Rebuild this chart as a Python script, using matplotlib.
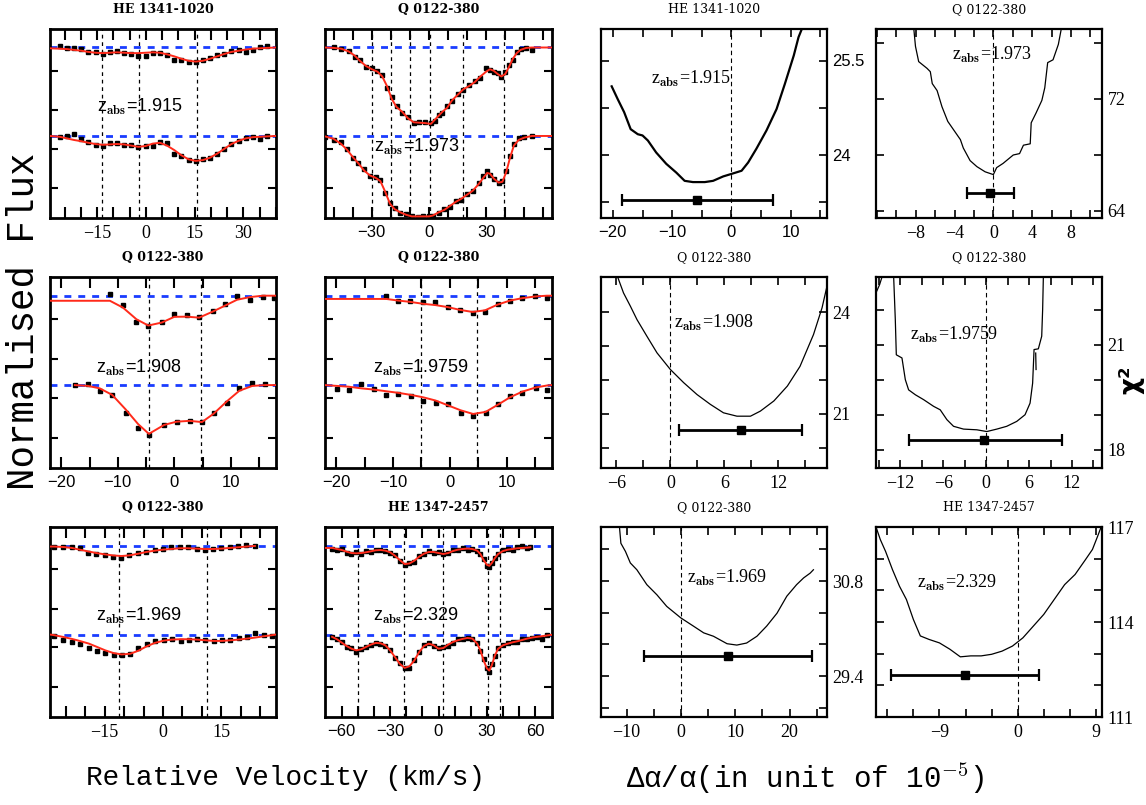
import numpy as np
import matplotlib
matplotlib.use("Agg")
import matplotlib.pyplot as plt

nan = np.nan
plt.rcParams['mathtext.fontset'] = 'cm'

# ---------------- spectra (normalised flux) ----------------
# Panel A : HE 1341-1020, z=1.915
A_v = [-29.5, -26.5, -24.3, -22.1, -19.9, -17.7, -15.5, -13.3, -11.1, -8.9, -6.7, -4.5, -2.3, -0.1, 2.1,
       4.3, 6.5, 8.7, 10.9, 13.1, 15.3, 17.5, 19.7, 21.9, 24.1, 26.3, 28.5, 30.7, 32.9, 35.1, 37.3, 40.0]
A_up_fit = [0.99, 0.985, 0.98, 0.97, 0.96, 0.945, 0.935, 0.93, 0.935, 0.94, 0.935, 0.93, 0.93, 0.935, 0.94,
            0.935, 0.915, 0.89, 0.86, 0.835, 0.825, 0.835, 0.86, 0.89, 0.92, 0.945, 0.96, 0.975, 0.985, 0.99, 0.995, 1.0]
A_up_obs = [nan, 1.02, 0.99, 0.99, 0.98, 0.95, 0.94, 0.92, 0.94, 0.96, 0.93, 0.92, 0.9, 0.9, 0.93,
            0.93, 0.91, 0.84, 0.85, 0.82, 0.82, 0.84, 0.875, 0.91, 0.92, 0.96, 0.97, 0.95, 0.97, 1.0, 1.02, nan]
A_lo_fit = [1.0, 0.99, 0.97, 0.95, 0.935, 0.915, 0.9, 0.89, 0.895, 0.9, 0.895, 0.88, 0.865, 0.875, 0.905,
            0.915, 0.88, 0.825, 0.76, 0.71, 0.69, 0.7, 0.73, 0.78, 0.84, 0.9, 0.94, 0.97, 0.985, 0.99, 0.995, 1.0]
A_lo_obs = [nan, 0.99, 1.0, 1.02, 0.96, 0.92, 0.89, 0.88, 0.91, 0.91, 0.89, 0.89, 0.86, 0.87, 0.88,
            0.92, 0.91, 0.78, 0.75, 0.70, 0.69, 0.71, 0.73, 0.78, 0.84, 0.9, 0.94, 0.97, 0.99, 0.96, 1.0, nan]
A_comp = [-13.6, -2.0, 15.7]

# Panel B : Q 0122-380, z=1.973
B_up_v = [-54.5, -50, -46, -42, -39, -36, -33, -30, -27, -24.5, -22, -19.5, -17, -14, -11, -8, -5, -2, 1, 3,
          5, 7, 9.5, 12, 15, 18, 21, 24, 27, 30, 32, 34, 36, 38, 40, 42, 44, 46, 48, 51, 54, 64.5]
B_up_fit = [1.0, 0.995, 0.985, 0.95, 0.9, 0.83, 0.77, 0.73, 0.7, 0.64, 0.52, 0.36, 0.26, 0.2, 0.12, 0.07, 0.065,
            0.06, 0.05, 0.1, 0.15, 0.2, 0.25, 0.34, 0.41, 0.48, 0.52, 0.57, 0.64, 0.7, 0.73, 0.71, 0.67, 0.64,
            0.67, 0.76, 0.86, 0.93, 0.97, 0.995, 1.0, 1.0]
B_up_obs = [nan, 1.0, 0.98, 0.96, 0.88, 0.84, 0.76, 0.74, 0.71, 0.66, 0.5, 0.38, 0.27, 0.18, 0.13, 0.06, 0.07,
            0.07, 0.06, 0.09, 0.16, 0.19, 0.27, 0.33, 0.42, 0.47, 0.53, 0.58, 0.62, 0.74, 0.72, 0.7, 0.68, 0.63,
            0.69, 0.78, 0.85, 0.95, 0.98, 0.99, 0.97, nan]
B_lo_v = [-54.5, -50, -46, -43, -40, -37, -34, -31, -28, -25.5, -23, -20.5, -18, -15, -12, -9, -6, -3, 0, 2,
          5, 8, 11, 14, 17, 20, 23, 26, 28.5, 30.5, 32, 34, 36.5, 38.5, 40.5, 42.5, 44.5, 47, 50, 54, 64.5]
B_lo_fit = [0.995, 0.965, 0.9, 0.83, 0.74, 0.66, 0.57, 0.51, 0.48, 0.44, 0.31, 0.16, 0.09, 0.05, 0.02, 0.0, 0.0,
            0.0, 0.0, 0.01, 0.05, 0.08, 0.13, 0.18, 0.22, 0.27, 0.32, 0.4, 0.48, 0.54, 0.53, 0.47, 0.42, 0.43,
            0.55, 0.73, 0.88, 0.95, 0.98, 1.0, 1.0]
B_lo_obs = [0.99, 0.95, 0.92, 0.84, 0.72, 0.66, 0.59, 0.5, 0.49, 0.45, 0.29, 0.17, 0.1, 0.04, 0.03, 0.01, -0.01,
            0.0, 0.01, 0.0, 0.04, 0.09, 0.12, 0.19, 0.21, 0.28, 0.31, 0.41, 0.5, 0.57, 0.52, 0.46, 0.41, 0.44,
            0.56, 0.75, 0.9, 0.97, 0.99, 1.0, nan]
B_comp = [-29.9, -19.8, -10.1, 0.7, 17.8, 39.2]

# Panel C : Q 0122-380, z=1.908
C_up_v = [-22, -11.4, -9.1, -6.7, -4.6, -2.2, 0, 2.2, 4.4, 6.8, 8.9, 11.1, 13.4, 15.7, 17.6, 18]
C_up_fit = [0.9375, 0.9375, 0.854, 0.71, 0.633, 0.67, 0.74, 0.742, 0.73, 0.804, 0.875, 0.95, 0.983, 1.0, 1.0, 1.0]
C_up_obs = [nan, 1.02, 0.883, 0.68, 0.633, 0.675, 0.78, 0.76, 0.74, 0.81, 0.896, 1.0, 0.95, 0.98, 0.967, nan]
C_lo_v = [-17.6, -15.3, -13.2, -11.0, -8.6, -6.4, -4.5, -1.8, 0.4, 2.7, 4.9, 7.0, 9.3, 11.5, 13.8, 16.1, 18.0]
C_lo_fit = [1.0, 0.99, 0.96, 0.88, 0.7, 0.52, 0.4, 0.51, 0.55, 0.56, 0.545, 0.65, 0.8, 0.93, 0.99, 1.0, 1.0]
C_lo_obs = [1.0, 1.01, 0.93, 0.88, 0.66, 0.47, 0.383, 0.51, 0.54, 0.56, 0.54, 0.66, 0.78, 0.967, 1.02, 1.01, nan]
C_comp = [-4.5, 4.7]

# Panel D : Q 0122-380, z=1.9759
D_up_v = [-22, -11.2, -9.1, -7.1, -4.7, -2.6, -0.4, 1.8, 4.0, 6.2, 8.4, 10.6, 12.8, 15.0, 17.1, 18]
D_up_fit = [0.96, 0.96, 0.94, 0.925, 0.9, 0.885, 0.86, 0.825, 0.8, 0.82, 0.89, 0.94, 0.97, 0.99, 1.0, 1.0]
D_up_obs = [nan, 1.0, 0.93, 0.93, 0.917, 0.917, 0.862, 0.825, 0.792, 0.8, 0.896, 0.9375, 0.967, 0.992, 0.967, nan]
D_lo_v = [-22, -19.9, -17.8, -15.6, -13.4, -11.3, -9.1, -6.9, -4.7, -2.5, -0.3, 1.9, 4.1, 6.3, 8.5, 10.6,
          12.8, 15.1, 17.1, 18]
D_lo_fit = [1.0, 0.99, 0.98, 0.96, 0.945, 0.925, 0.905, 0.88, 0.85, 0.81, 0.75, 0.69, 0.645, 0.67, 0.76, 0.85,
            0.92, 0.97, 0.995, 1.0]
D_lo_obs = [nan, 0.95, 0.9375, 1.008, 0.958, 0.883, 0.896, 0.8625, 0.8, 0.779, 0.771, 0.654, 0.625, 0.654,
            0.771, 0.8625, 0.908, 0.967, 0.9375, nan]
D_comp = [-5.1, 4.8]

# Panel E : Q 0122-380, z=1.969
E_up_v = [-29, -27.9, -25.7, -23.4, -21.4, -19.3, -17.1, -15.0, -12.9, -10.7, -8.6, -6.3, -4.3, -2.1, 0,
          2.1, 4.3, 6.4, 8.6, 10.7, 12.9, 15.0, 17.1, 19.3, 21.4, 23.6]
E_up_fit = [0.988, 0.988, 0.983, 0.971, 0.95, 0.929, 0.908, 0.892, 0.879, 0.871, 0.879, 0.9, 0.921, 0.9375,
            0.95, 0.958, 0.967, 0.967, 0.9625, 0.958, 0.958, 0.9625, 0.971, 0.979, 0.988, 0.996]
E_up_obs = [nan, 0.9875, 0.979, 0.9875, 0.967, 0.904, 0.896, 0.883, 0.8625, 0.846, 0.883, 0.904, 0.925, 0.946,
            0.958, 0.979, 0.9875, 0.979, 0.958, 0.946, 0.958, 0.971, 0.979, 1.0, 1.0125, 1.0]
E_lo_v = [-29, -27.9, -25.7, -23.4, -21.4, -19.0, -16.9, -14.8, -12.7, -10.6, -8.4, -6.3, -4.2, -2.1, 0.2,
          2.3, 4.5, 6.6, 8.7, 10.9, 13.0, 15.1, 17.3, 19.4, 21.6, 23.7, 25.9, 28.0, 29]
E_lo_fit = [1.0, 0.992, 0.971, 0.946, 0.921, 0.8875, 0.846, 0.804, 0.771, 0.754, 0.7625, 0.8, 0.854, 0.896,
            0.925, 0.9375, 0.942, 0.942, 0.9375, 0.929, 0.921, 0.921, 0.929, 0.9375, 0.95, 0.9625, 0.979, 0.992, 1.0]
E_lo_obs = [nan, 0.979, 0.9375, 0.908, 0.8875, 0.833, 0.792, 0.771, 0.75, 0.742, 0.758, 0.833, 0.8875, 0.917,
            0.9375, 0.946, 0.917, 0.929, 0.946, 0.929, 0.917, 0.929, 0.9375, 0.958, 0.971, 1.021, 1.0, 0.9875, nan]
E_comp = [-11.4, 11.3]

# Panel F : HE 1347-2457, z=2.329
F_up_v = [-70, -66, -63, -60, -57, -54, -51, -48, -45, -42, -39, -36, -33, -30, -27, -24, -21, -18, -15, -12,
          -9, -6, -3, 0, 3, 6, 9, 12, 15, 18, 21, 24, 26, 28, 30, 31.5, 33, 35, 37, 40, 43, 46, 49, 52, 55, 57]
F_up_fit = [0.971, 0.971, 0.958, 0.946, 0.925, 0.908, 0.904, 0.908, 0.917, 0.929, 0.942, 0.946, 0.938, 0.917,
            0.875, 0.821, 0.771, 0.779, 0.813, 0.863, 0.900, 0.921, 0.921, 0.908, 0.896, 0.908, 0.933, 0.950,
            0.958, 0.963, 0.958, 0.938, 0.896, 0.821, 0.763, 0.750, 0.783, 0.846, 0.896, 0.933, 0.950, 0.958,
            0.967, 0.971, 0.975, 0.979]
F_up_obs = [nan, 0.96, 0.95, 0.955, 0.91, 0.90, 0.92, 0.895, 0.93, 0.92, 0.95, 0.94, 0.93, 0.91, 0.88, 0.81,
            0.76, 0.79, 0.80, 0.87, 0.89, 0.93, 0.91, 0.92, 0.89, 0.91, 0.94, 0.94, 0.97, 0.95, 0.96, 0.93, 0.90,
            0.83, 0.75, 0.74, 0.79, 0.85, 0.90, 0.94, 0.96, 0.95, 0.98, 0.99, 0.97, 0.98]
F_lo_v = [-66, -63, -60, -57, -54, -51, -48, -45, -42, -39, -36, -33, -30, -27, -24, -21, -18, -15, -12, -9,
          -6, -3, 0, 3, 6, 9, 12, 15, 18, 21, 24, 26, 28, 30, 31.5, 33, 35, 37, 40, 43, 46, 49, 52, 55, 58, 61,
          64, 67, 70]
F_lo_fit = [0.971, 0.942, 0.9, 0.858, 0.825, 0.804, 0.817, 0.846, 0.875, 0.896, 0.892, 0.867, 0.804, 0.721,
            0.6375, 0.5875, 0.608, 0.679, 0.783, 0.858, 0.8875, 0.867, 0.825, 0.833, 0.875, 0.908, 0.929, 0.946,
            0.958, 0.95, 0.8875, 0.804, 0.679, 0.583, 0.554, 0.617, 0.742, 0.825, 0.867, 0.8875, 0.904, 0.917,
            0.933, 0.95, 0.9625, 0.971, 0.979, 0.9875, 0.996]
F_lo_obs = [0.97, 0.94, 0.91, 0.85, 0.83, 0.79, 0.82, 0.85, 0.87, 0.90, 0.88, 0.86, 0.81, 0.71, 0.65, 0.58,
            0.59, 0.69, 0.78, 0.87, 0.89, 0.86, 0.83, 0.84, 0.86, 0.90, 0.94, 0.94, 0.96, 0.95, 0.89, 0.80, 0.70,
            0.58, 0.54, 0.63, 0.74, 0.83, 0.87, 0.89, 0.91, 0.91, 0.94, 0.95, 0.96, 0.97, 0.95, 0.99, nan]
F_comp = [-50.1, -21.7, 3.1, 30.4, 37.9]

FLUX_ERR = 0.02

# ---------------- chi-square curves ----------------
G_x = [-20.2, -19.2, -18.1, -17.0, -15.8, -15.0, -14.1, -12.7, -11.0, -9.3, -7.9, -6.5, -4.5, -3.1, -1.4,
       0.0, 1.7, 2.8, 4.2, 5.9, 7.6, 9.0, 10.5, 11.3, 11.9]
G_y = [25.09, 24.89, 24.68, 24.41, 24.33, 24.31, 24.23, 24.04, 23.86, 23.72, 23.59, 23.57, 23.57, 23.59, 23.66,
       23.70, 23.75, 23.88, 24.10, 24.39, 24.73, 25.13, 25.58, 25.87, 26.01]
G_best = (-5.9, 23.29, 12.6, 12.85)

H_x = [-8.2, -8.03, -7.7, -6.84, -6.5, -6.3, -5.8, -5.3, -4.7, -4.1, -3.4, -3.1, -2.4, -1.7, -0.85, 0.0, 0.34,
       1.0, 2.05, 2.7, 3.1, 3.8, 3.9, 4.4, 5.0, 5.3, 5.6, 6.15, 6.7, 7.0]
H_y = [77.0, 75.76, 74.67, 74.19, 73.95, 73.1, 72.6, 71.45, 70.4, 69.8, 69.1, 68.5, 67.6, 67.17, 66.8, 66.6, 67.1,
       67.4, 68.0, 68.1, 68.7, 68.8, 70.3, 71.0, 71.9, 72.8, 74.6, 74.8, 75.9, 77.0]
H_best = (-0.34, 65.3, 2.33, 2.46)

I_x = [-5.85, -5.2, -4.44, -3.7, -2.6, -1.48, 0.0, 1.48, 2.96, 4.44, 5.9, 7.4, 8.9, 10.0, 11.5, 13.0, 14.4,
       15.9, 16.85, 17.4]
I_y = [25.04, 24.57, 24.18, 23.78, 23.29, 22.8, 22.31, 21.92, 21.57, 21.28, 21.03, 20.93, 20.93, 21.08, 21.38,
       21.82, 22.4, 23.34, 24.13, 24.77]
I_best = (7.85, 20.52, 6.85, 6.75)

J_x1 = [-15.4, -14.9, -14.56]
J_y1 = [22.48, 22.71, 22.93]
J_x2 = [-12.93, -12.7, -12.56, -11.77, -11.3, -10.84, -9.9, -8.74, -7.35, -6.42, -5.49, -4.56, -3.16, -1.3,
        0.09, 1.49, 2.88, 4.28, 5.44, 6.14, 6.5, 6.7, 7.3, 7.77, 7.9, 8.0]
J_y2 = [22.93, 21.71, 20.71, 20.62, 20.0, 19.71, 19.57, 19.43, 19.24, 19.14, 18.86, 18.67, 18.59, 18.57, 18.52,
        18.59, 18.67, 18.81, 19.0, 19.33, 19.9, 20.86, 20.88, 21.24, 22.0, 22.93]
J_x3 = [6.93, 6.98]
J_y3 = [20.76, 20.29]
J_best = (-0.28, 18.29, 10.56, 10.84)

K_x = [-11.3, -11.04, -10.2, -9.3, -8.1, -6.26, -4.4, -2.6, 0.0, 2.3, 4.2, 6.0, 8.5, 10.3, 12.1, 14.0, 15.8,
       17.7, 19.5, 21.3, 22.6, 23.8, 24.4]
K_y = [31.6, 31.36, 31.24, 31.07, 30.97, 30.75, 30.6, 30.43, 30.26, 30.14, 30.04, 29.99, 29.88, 29.86, 29.89,
       29.99, 30.14, 30.33, 30.58, 30.75, 30.85, 30.92, 30.97]
K_best = (8.65, 29.7, 15.5, 15.45)

L_x = [-16.3, -15.8, -15.2, -14.4, -13.6, -12.8, -12.0, -11.2, -10.2, -9.0, -7.8, -6.6, -5.4, -4.2, -3.0, -1.8,
       -0.6, 0.6, 1.8, 3.0, 4.2, 5.4, 6.6, 7.8, 8.6, 9.2, 9.6]
L_y = [117.0, 116.6, 116.23, 115.65, 115.13, 114.71, 114.08, 113.56, 113.45, 113.34, 113.14, 112.9, 112.93,
       112.93, 112.98, 113.08, 113.24, 113.5, 113.87, 114.24, 114.71, 115.18, 115.5, 115.97, 116.29, 116.71, 117.0]
L_best = (-6.08, 112.32, 8.52, 8.48)

# ---------------- layout ----------------
W, H = 1146.0, 805.0
fig = plt.figure(figsize=(11.46, 8.05), dpi=100)
COLS = [(50, 276), (325, 552), (601, 827), (876, 1102)]
ROWS = [(29, 218), (277, 468), (527, 717)]

SANS = 'Liberation Sans'
SERIF = 'Liberation Serif'
TITLE_FONT = 'DejaVu Serif'
RED = '#ff2a1a'
BLUE = '#1a3cff'

YLIM = (-0.02, 2.33)
OFF = 1.1
YTICKS_SPEC = [0.35, 0.84, 1.32, 1.81]


def make_ax(r, c):
    x0, x1 = COLS[c]
    y0, y1 = ROWS[r]
    return fig.add_axes([x0 / W, 1 - y1 / H, (x1 - x0) / W, (y1 - y0) / H])


def fmt(t):
    s = ('%g' % t)
    return s.replace('-', '\u2212')


def set_xt(ax, ticks, labelled, font, size):
    ax.set_xticks(ticks)
    ax.set_xticklabels([fmt(t) if t in labelled else '' for t in ticks], family=font, fontsize=size)


def title(ax, text, bold):
    ax.annotate(text, xy=(0.5, 1.0), xycoords='axes fraction', xytext=(0, 14),
                textcoords='offset points', ha='center', va='center', family=TITLE_FONT,
                fontsize=9, fontweight='bold' if bold else 'normal')


def spec_panel(r, c, name, z, zpos, xlim, ticks, labelled, font, up, lo, comps):
    ax = make_ax(r, c)
    ax.set_xlim(xlim)
    ax.set_ylim(YLIM)
    for s in ax.spines.values():
        s.set_linewidth(2.0)
    for cv in comps:
        ax.axvline(cv, color='k', ls=(0, (3, 3)), lw=0.9, zorder=1)
    ax.axhline(1.0, color=BLUE, ls=(0, (2.5, 2.5)), lw=2.0, zorder=2)
    ax.axhline(1.0 + OFF, color=BLUE, ls=(0, (2.5, 2.5)), lw=2.0, zorder=2)
    for (v, fit, obs), off in ((up, OFF), (lo, 0.0)):
        v = np.asarray(v, float)
        ax.errorbar(v, np.asarray(obs, float) + off, yerr=FLUX_ERR, fmt='s', color='k', ms=3.2,
                    elinewidth=1.0, capsize=0, zorder=3)
        ax.plot(v, np.asarray(fit, float) + off, color=RED, lw=1.4, zorder=4)
    set_xt(ax, ticks, labelled, font, 12 if font == SANS else 13)
    ax.set_yticks(YTICKS_SPEC)
    ax.set_yticklabels([])
    ax.tick_params(axis='x', which='both', direction='in', top=True, bottom=True, length=8, width=1.5, pad=5)
    ax.tick_params(axis='y', which='both', direction='in', left=True, right=True, length=6, width=1.5)
    ax.text(zpos[0], zpos[1], r'z$_{\mathbf{abs}}$=' + z, family=SANS, fontsize=13, va='baseline')
    title(ax, name, True)
    return ax


def chi_panel(r, c, name, z, zpos, xlim, ylim, xticks, xlab, yticks, ylab, font, curves, best, lw):
    ax = make_ax(r, c)
    ax.set_xlim(xlim)
    ax.set_ylim(ylim)
    for s in ax.spines.values():
        s.set_linewidth(1.6)
    ax.axvline(0, color='k', ls=(0, (4, 3)), lw=0.8, zorder=1)
    for cx, cy in curves:
        ax.plot(cx, cy, color='k', lw=lw, zorder=3)
    bx, by, el, er = best
    ax.errorbar([bx], [by], xerr=[[el], [er]], fmt='s', color='k', ms=6, elinewidth=2,
                capsize=4, capthick=1.6, zorder=4)
    size = 12 if font == SANS else 13
    set_xt(ax, xticks, xlab, font, size)
    ax.set_yticks(yticks)
    ax.set_yticklabels([fmt(t) if t in ylab else '' for t in yticks], family=font, fontsize=size)
    ax.tick_params(axis='x', which='both', direction='in', top=True, bottom=True, length=6, width=1.2, pad=5)
    ax.tick_params(axis='y', which='both', direction='in', left=True, right=True, labelleft=False,
                   labelright=True, length=6, width=1.2, pad=4)
    ax.text(zpos[0], zpos[1], r'z$_{\mathbf{abs}}$=' + z, family=SERIF, fontsize=13, va='baseline')
    title(ax, name, False)
    return ax


# left: spectra
spec_panel(0, 0, 'HE 1341-1020', '1.915', (-15.1, 1.30), (-29.5, 40),
           list(range(-25, 41, 5)), [-15, 0, 15, 30], SERIF,
           (A_v, A_up_fit, A_up_obs), (A_v, A_lo_fit, A_lo_obs), A_comp)
spec_panel(0, 1, 'Q 0122-380', '1.973', (-29.0, 0.80), (-54.5, 64.5),
           list(range(-50, 61, 10)), [-30, 0, 30], SANS,
           (B_up_v, B_up_fit, B_up_obs), (B_lo_v, B_lo_fit, B_lo_obs), B_comp)
spec_panel(1, 0, 'Q 0122-380', '1.908', (-13.8, 1.15), (-22, 18),
           list(range(-20, 16, 5)), [-20, -10, 0, 10], SANS,
           (C_up_v, C_up_fit, C_up_obs), (C_lo_v, C_lo_fit, C_lo_obs), C_comp)
spec_panel(1, 1, 'Q 0122-380', '1.9759', (-13.5, 1.15), (-22, 18),
           list(range(-20, 16, 5)), [-20, -10, 0, 10], SANS,
           (D_up_v, D_up_fit, D_up_obs), (D_lo_v, D_lo_fit, D_lo_obs), D_comp)
spec_panel(2, 0, 'Q 0122-380', '1.969', (-17.1, 1.17), (-29, 29),
           list(range(-25, 26, 5)), [-15, 0, 15], SERIF,
           (E_up_v, E_up_fit, E_up_obs), (E_lo_v, E_lo_fit, E_lo_obs), E_comp)
spec_panel(2, 1, 'HE 1347-2457', '2.329', (-40.4, 1.17), (-70.4, 70.4),
           list(range(-60, 61, 10)), [-60, -30, 0, 30, 60], SANS,
           (F_up_v, F_up_fit, F_up_obs), (F_lo_v, F_lo_fit, F_lo_obs), F_comp)

# right: chi-square
chi_panel(0, 2, 'HE 1341-1020', '1.915', (-13.6, 25.13), (-22, 16.1), (23.0, 26.0),
          list(range(-20, 16, 5)), [-20, -10, 0, 10], [23.25, 24.0, 24.75, 25.5], [24.0, 25.5], SANS,
          [(G_x, G_y)], G_best, 1.6)
chi_panel(0, 3, 'Q 0122-380', '1.973', (-4.27, 74.8), (-12.1, 11.2), (63.5, 77.0),
          list(range(-12, 11, 2)), [-8, -4, 0, 4, 8], [64, 68, 72, 76], [64, 72], SERIF,
          [(H_x, H_y)], H_best, 0.9)
chi_panel(1, 2, 'Q 0122-380', '1.908', (0.45, 23.54), (-7.7, 17.4), (19.4, 25.04),
          list(range(-6, 17, 3)), [-6, 0, 6, 12], [20, 21, 22, 23, 24], [21, 24], SERIF,
          [(I_x, I_y)], I_best, 0.9)
chi_panel(1, 3, 'Q 0122-380', '1.9759', (-10.6, 21.14), (-15.4, 16.2), (17.48, 22.93),
          list(range(-15, 16, 3)), [-12, -6, 0, 6, 12], [18, 19, 20, 21, 22], [18, 21], SERIF,
          [(J_x1, J_y1), (J_x2, J_y2), (J_x3, J_y3)], J_best, 0.9)
chi_panel(2, 2, 'Q 0122-380', '1.969', (1.1, 30.78), (-14.7, 26.9), (28.8, 31.6),
          list(range(-10, 26, 5)), [-10, 0, 10, 20], [28.93, 29.4, 29.87, 30.33, 30.8, 31.27], [29.4, 30.8],
          SERIF, [(K_x, K_y)], K_best, 0.9)
chi_panel(2, 3, 'HE 1347-2457', '2.329', (-11.6, 115.08), (-16.3, 9.7), (111.0, 117.0),
          list(range(-15, 10, 3)), [-9, 0, 9], [111, 112, 113, 114, 115, 116, 117], [111, 114, 117], SERIF,
          [(L_x, L_y)], L_best, 0.9)

# global labels
fig.text(24 / W, 1 - 321 / H, 'Normalised Flux', rotation=90, ha='center', va='center',
         family='Liberation Mono', fontsize=27)
fig.text(285 / W, 1 - 778 / H, 'Relative Velocity (km/s)', ha='center', va='center',
         family='Liberation Mono', fontsize=20)
fig.text(805 / W, 1 - 778 / H, '\u0394\u03b1/\u03b1(in unit of 10$^{-5}$)', ha='center', va='center',
         family='Liberation Mono', fontsize=21)
fig.text(1131 / W, 1 - 380 / H, '\u03c7\u00b2', rotation=90, ha='center', va='center',
         family='DejaVu Sans', fontweight='bold', fontsize=19)

fig.savefig('out.png', dpi=100)
